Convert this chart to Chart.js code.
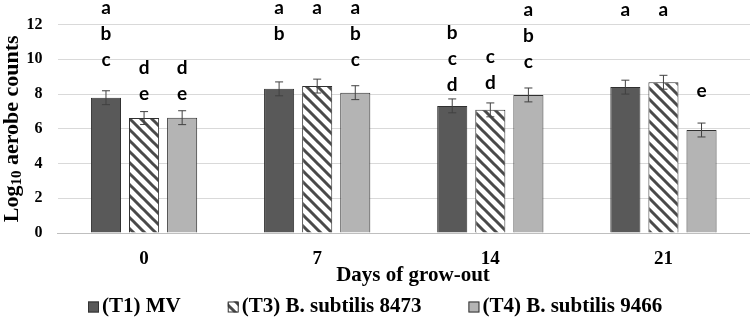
<!DOCTYPE html>
<html>
<head>
<meta charset="utf-8">
<script src="https://cdn.jsdelivr.net/npm/chart.js@4.4.1/dist/chart.umd.min.js"></script>
<style>
  html, body { margin: 0; padding: 0; background: #fff; }
  #wrap { width: 750px; height: 318px; }
</style>
</head>
<body>
<div id="wrap"><canvas id="growChart" width="750" height="318"></canvas></div>
<script>
// days of grow-out
const categories = ['0', '7', '14', '21'];
const seriesNames = ['(T1) MV', '(T3) B. subtilis 8473', '(T4) B. subtilis 9466'];

// log10 aerobe counts (means) and error (+/-)
const t1Values = [7.79, 8.30, 7.32, 8.40];
const t3Values = [6.62, 8.46, 7.09, 8.68];
const t4Values = [6.64, 8.08, 7.95, 5.93];
const t1Errors = [0.40, 0.40, 0.40, 0.40];
const t3Errors = [0.37, 0.40, 0.40, 0.40];
const t4Errors = [0.40, 0.40, 0.40, 0.40];

// significance letters, and the value where the first letter sits
const t1Letters = ['abc', 'ab', 'bcd', 'a'];
const t3Letters = ['de', 'a', 'cd', 'a'];
const t4Letters = ['de', 'abc', 'abc', 'e'];
const t1LetterTop = [12.97, 12.97, 11.55, 12.86];
const t3LetterTop = [9.50, 12.97, 10.12, 12.86];
const t4LetterTop = [9.50, 12.97, 12.86, 8.19];

const yTicks = [0, 2, 4, 6, 8, 10, 12];

const serif = "'Liberation Serif', 'Times New Roman', serif";

function hatchPattern() {
    const s = 11;
    const c = document.createElement('canvas');
    c.width = s; c.height = s;
    const g = c.getContext('2d');
    g.fillStyle = '#ffffff';
    g.fillRect(0, 0, s, s);
    g.strokeStyle = '#4a4a4a';
    g.lineWidth = 3;
    g.lineCap = 'square';
    g.beginPath();
    g.moveTo(0, 0); g.lineTo(s, s);
    g.moveTo(-2, s - 2); g.lineTo(2, s + 2);
    g.moveTo(s - 2, -2); g.lineTo(s + 2, 2);
    g.stroke();
    return g.createPattern(c, 'repeat');
}

const errorsBySeries = [t1Errors, t3Errors, t4Errors];
const lettersBySeries = [t1Letters, t3Letters, t4Letters];
const letterTopBySeries = [t1LetterTop, t3LetterTop, t4LetterTop];

const extrasPlugin = {
    id: 'extras',
    afterDatasetsDraw(chart) {
        const ctx = chart.ctx;
        const yScale = chart.scales.y;
        ctx.save();
        chart.data.datasets.forEach((ds, i) => {
            const meta = chart.getDatasetMeta(i);
            meta.data.forEach((bar, j) => {
                const v = ds.data[j];
                const e = errorsBySeries[i][j];
                const yTop = yScale.getPixelForValue(v + e);
                const yBot = yScale.getPixelForValue(v - e);
                ctx.strokeStyle = '#404040';
                ctx.lineWidth = 1;
                ctx.beginPath();
                ctx.moveTo(bar.x, yTop); ctx.lineTo(bar.x, yBot);
                ctx.moveTo(bar.x - 4, yTop); ctx.lineTo(bar.x + 4, yTop);
                ctx.moveTo(bar.x - 4, yBot); ctx.lineTo(bar.x + 4, yBot);
                ctx.stroke();

                // letters
                ctx.fillStyle = '#000';
                ctx.font = "bold 19px Lato, 'Open Sans', sans-serif";
                ctx.textAlign = 'center';
                ctx.textBaseline = 'middle';
                const letters = lettersBySeries[i][j].split('');
                const y0 = yScale.getPixelForValue(letterTopBySeries[i][j]);
                letters.forEach((l, k) => {
                    ctx.fillText(l, bar.x, y0 + k * 26);
                });
            });
        });
        ctx.restore();
    },
    afterDraw(chart) {
        const ctx = chart.ctx;
        const area = chart.chartArea;
        ctx.save();
        ctx.fillStyle = '#000';

        // y title with subscript
        ctx.translate(12, (area.top + area.bottom) / 2);
        ctx.rotate(-Math.PI / 2);
        const big = 'bold 22px ' + serif;
        const small = 'bold 15px ' + serif;
        ctx.font = big;
        const w1 = ctx.measureText('Log').width;
        const w3 = ctx.measureText(' aerobe counts').width;
        ctx.font = small;
        const w2 = ctx.measureText('10').width;
        let x = -(w1 + w2 + w3) / 2;
        ctx.textBaseline = 'middle';
        ctx.textAlign = 'left';
        ctx.font = big;
        ctx.fillText('Log', x, 0);
        x += w1;
        ctx.font = small;
        ctx.fillText('10', x, 5);
        x += w2;
        ctx.font = big;
        ctx.fillText(' aerobe counts', x, 0);
        ctx.setTransform(1, 0, 0, 1, 0, 0);

        // x title
        ctx.font = 'bold 21px ' + serif;
        ctx.textAlign = 'center';
        ctx.fillText('Days of grow-out', 413, 276);

        // legend
        ctx.font = 'bold 21px ' + serif;
        ctx.textAlign = 'left';
        let lx = 88;
        const ly = 307;
        chart.data.datasets.forEach((ds) => {
            ctx.fillStyle = ds.backgroundColor;
            ctx.fillRect(lx, ly - 5.5, 11, 11);
            ctx.strokeStyle = '#333';
            ctx.lineWidth = 1;
            ctx.strokeRect(lx + 0.5, ly - 5, 10, 10);
            ctx.fillStyle = '#000';
            ctx.fillText(ds.label, lx + 14, ly);
            lx += 14 + ctx.measureText(ds.label).width + 47;
        });
        ctx.restore();
    }
};

const chartContext = document.getElementById('growChart').getContext('2d');

new Chart(chartContext, {
    type: 'bar',
    data: {
        labels: categories,
        datasets: [
            { label: seriesNames[0], data: t1Values, backgroundColor: '#595959' },
            { label: seriesNames[1], data: t3Values, backgroundColor: hatchPattern() },
            { label: seriesNames[2], data: t4Values, backgroundColor: '#b4b4b4' }
        ].map(d => Object.assign(d, {
            borderColor: '#303030',
            borderWidth: 1,
            barPercentage: 0.79,
            categoryPercentage: 0.66
        }))
    },
    options: {
        responsive: false,
        animation: false,
        layout: { padding: { top: 22, right: 0, left: 0, bottom: 0 } },
        plugins: {
            legend: { display: false },
            tooltip: { enabled: false }
        },
        scales: {
            x: {
                grid: { display: false, drawTicks: false },
                border: { display: true, color: '#bfbfbf', width: 1 },
                ticks: {
                    color: '#000',
                    padding: 15,
                    font: { family: serif, size: 19, weight: 'bold' }
                },
                afterFit: (scale) => { scale.height = 85; }
            },
            y: {
                min: 0,
                max: 12,
                afterBuildTicks: (scale) => { scale.ticks = yTicks.map(v => ({ value: v })); },
                grid: { color: '#d9d9d9', drawTicks: false },
                border: { display: false },
                ticks: {
                    color: '#000',
                    padding: 15,
                    font: { family: serif, size: 16, weight: 'bold' }
                },
                afterFit: (scale) => { scale.width = 57.5; }
            }
        }
    },
    plugins: [extrasPlugin]
});
</script>
</body>
</html>
